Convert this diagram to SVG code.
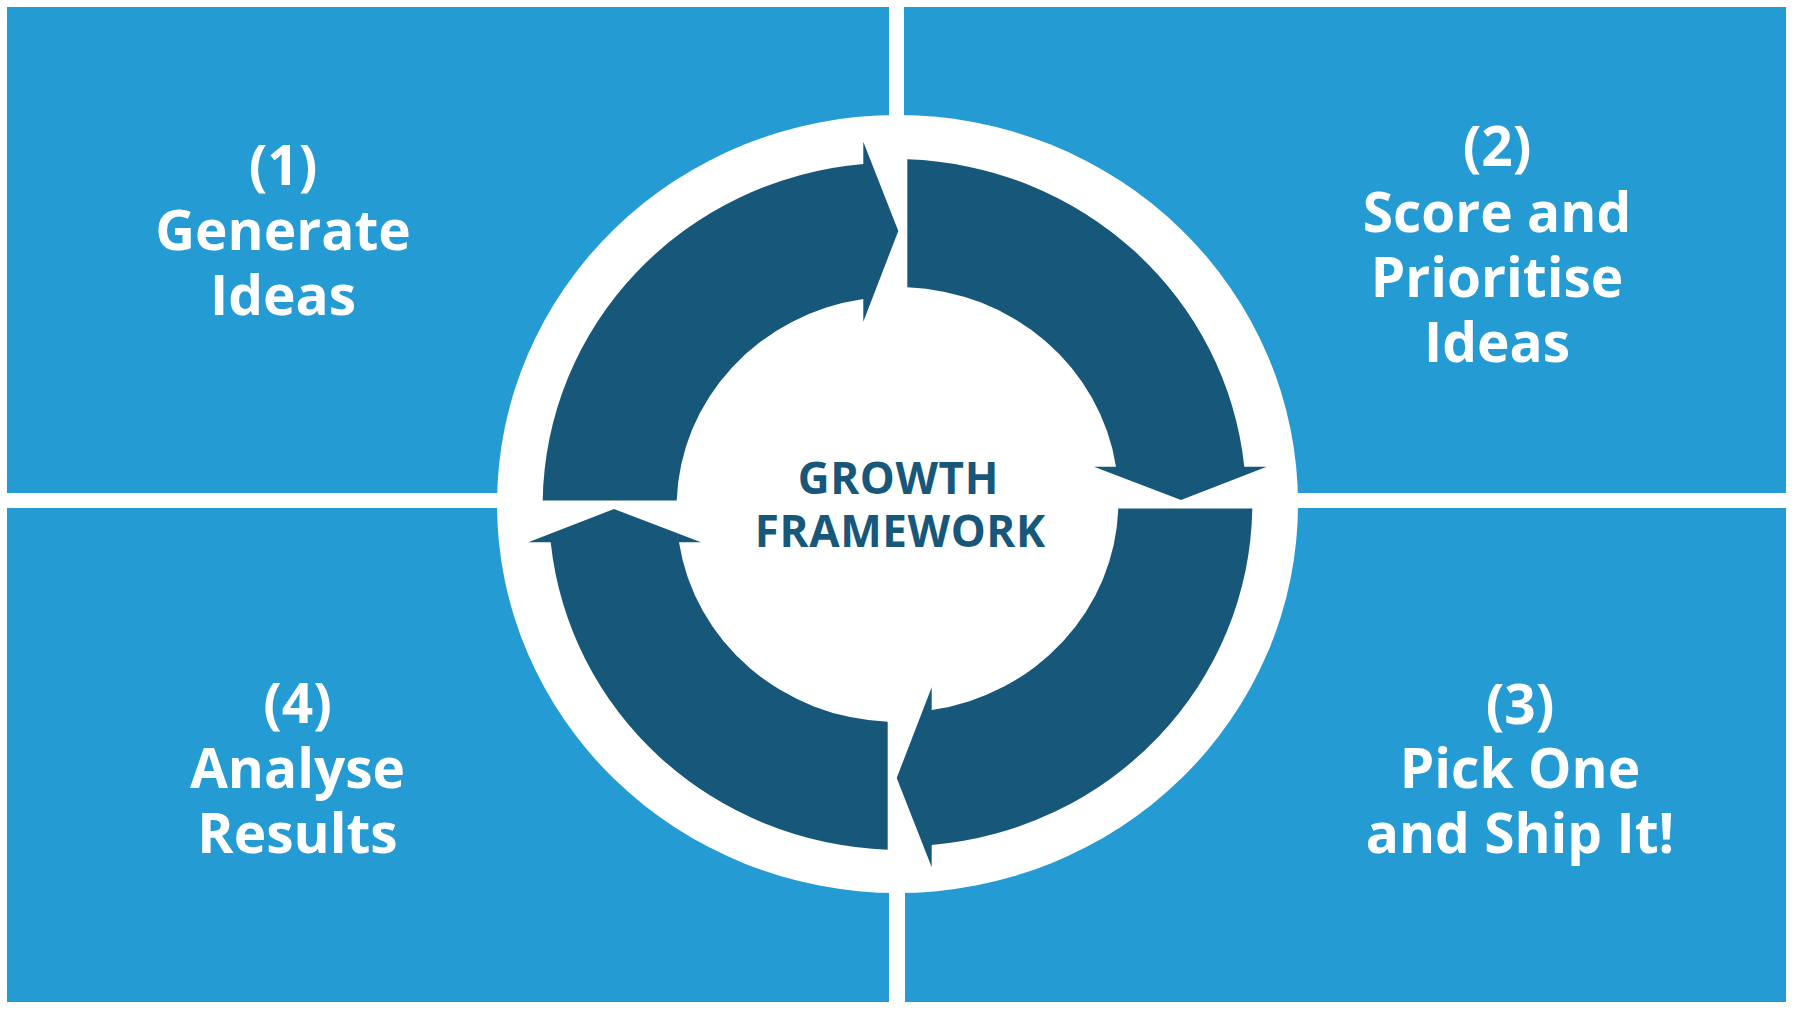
<svg xmlns="http://www.w3.org/2000/svg" width="1794" height="1012" viewBox="0 0 1794 1012">
  <defs>
    <style>
      .panel { fill: #259bd4; }
      .arrow { fill: #17577a; }
      .label { font-family: "Open Sans", "Noto Sans", "Liberation Sans", sans-serif; font-weight: 700; font-size: 55px; fill: #ffffff; text-anchor: middle; }
      .title { font-family: "Open Sans", "Noto Sans", "Liberation Sans", sans-serif; font-weight: 700; font-size: 44px; letter-spacing: 0.6px; fill: #17577a; text-anchor: middle; }
    </style>
  </defs>
  <rect x="0" y="0" width="1794" height="1012" fill="#ffffff"/>

  <g id="step1">
    <rect class="panel" x="7" y="7" width="882" height="486"/>
    <text class="label" x="283" y="185">(1)</text>
    <text class="label" x="283" y="250">Generate</text>
    <text class="label" x="283" y="315">Ideas</text>
  </g>
  <g id="step2">
    <rect class="panel" x="904" y="7" width="882" height="486"/>
    <text class="label" x="1497" y="166">(2)</text>
    <text class="label" x="1497" y="232">Score and</text>
    <text class="label" x="1497" y="297">Prioritise</text>
    <text class="label" x="1497" y="362">Ideas</text>
  </g>
  <g id="step4">
    <rect class="panel" x="7" y="508" width="882" height="494"/>
    <text class="label" x="297.5" y="723">(4)</text>
    <text class="label" x="297.5" y="788">Analyse</text>
    <text class="label" x="297.5" y="853">Results</text>
  </g>
  <g id="step3">
    <rect class="panel" x="905" y="508" width="881" height="494"/>
    <text class="label" x="1520" y="724">(3)</text>
    <text class="label" x="1520" y="788">Pick One</text>
    <text class="label" x="1520" y="853">and Ship It!</text>
  </g>

  <g id="hub">
    <ellipse cx="897.5" cy="504" rx="400.5" ry="389" fill="#ffffff"/>
  </g>

  <g id="connectors">
    <path id="arrow-1-2" class="arrow" d="M542.7,500.5 A351,343 0 0 1 863.3,164 L863.3,141.7 L898.3,231 L863.3,321.7 L863.3,299 A220,211 0 0 0 676.7,500.5 Z"/>
    <path id="arrow-2-3" class="arrow" d="M907.3,159.3 A351,343 0 0 1 1244.3,466.7 L1266.7,466.7 L1181,500 L1094,466.7 L1116,466.7 A220,211 0 0 0 907.3,287.3 Z"/>
    <path id="arrow-3-4" class="arrow" d="M542.7,500.5 A351,343 0 0 1 863.3,164 L863.3,141.7 L898.3,231 L863.3,321.7 L863.3,299 A220,211 0 0 0 676.7,500.5 Z" transform="rotate(180 897.5 504.5)"/>
    <path id="arrow-4-1" class="arrow" d="M907.3,159.3 A351,343 0 0 1 1244.3,466.7 L1266.7,466.7 L1181,500 L1094,466.7 L1116,466.7 A220,211 0 0 0 907.3,287.3 Z" transform="rotate(180 897.5 504.5)"/>
  </g>

  <g id="hub-title">
    <text class="title" x="898.3" y="494">GROWTH</text>
    <text class="title" x="900.3" y="547">FRAMEWORK</text>
  </g>
</svg>
